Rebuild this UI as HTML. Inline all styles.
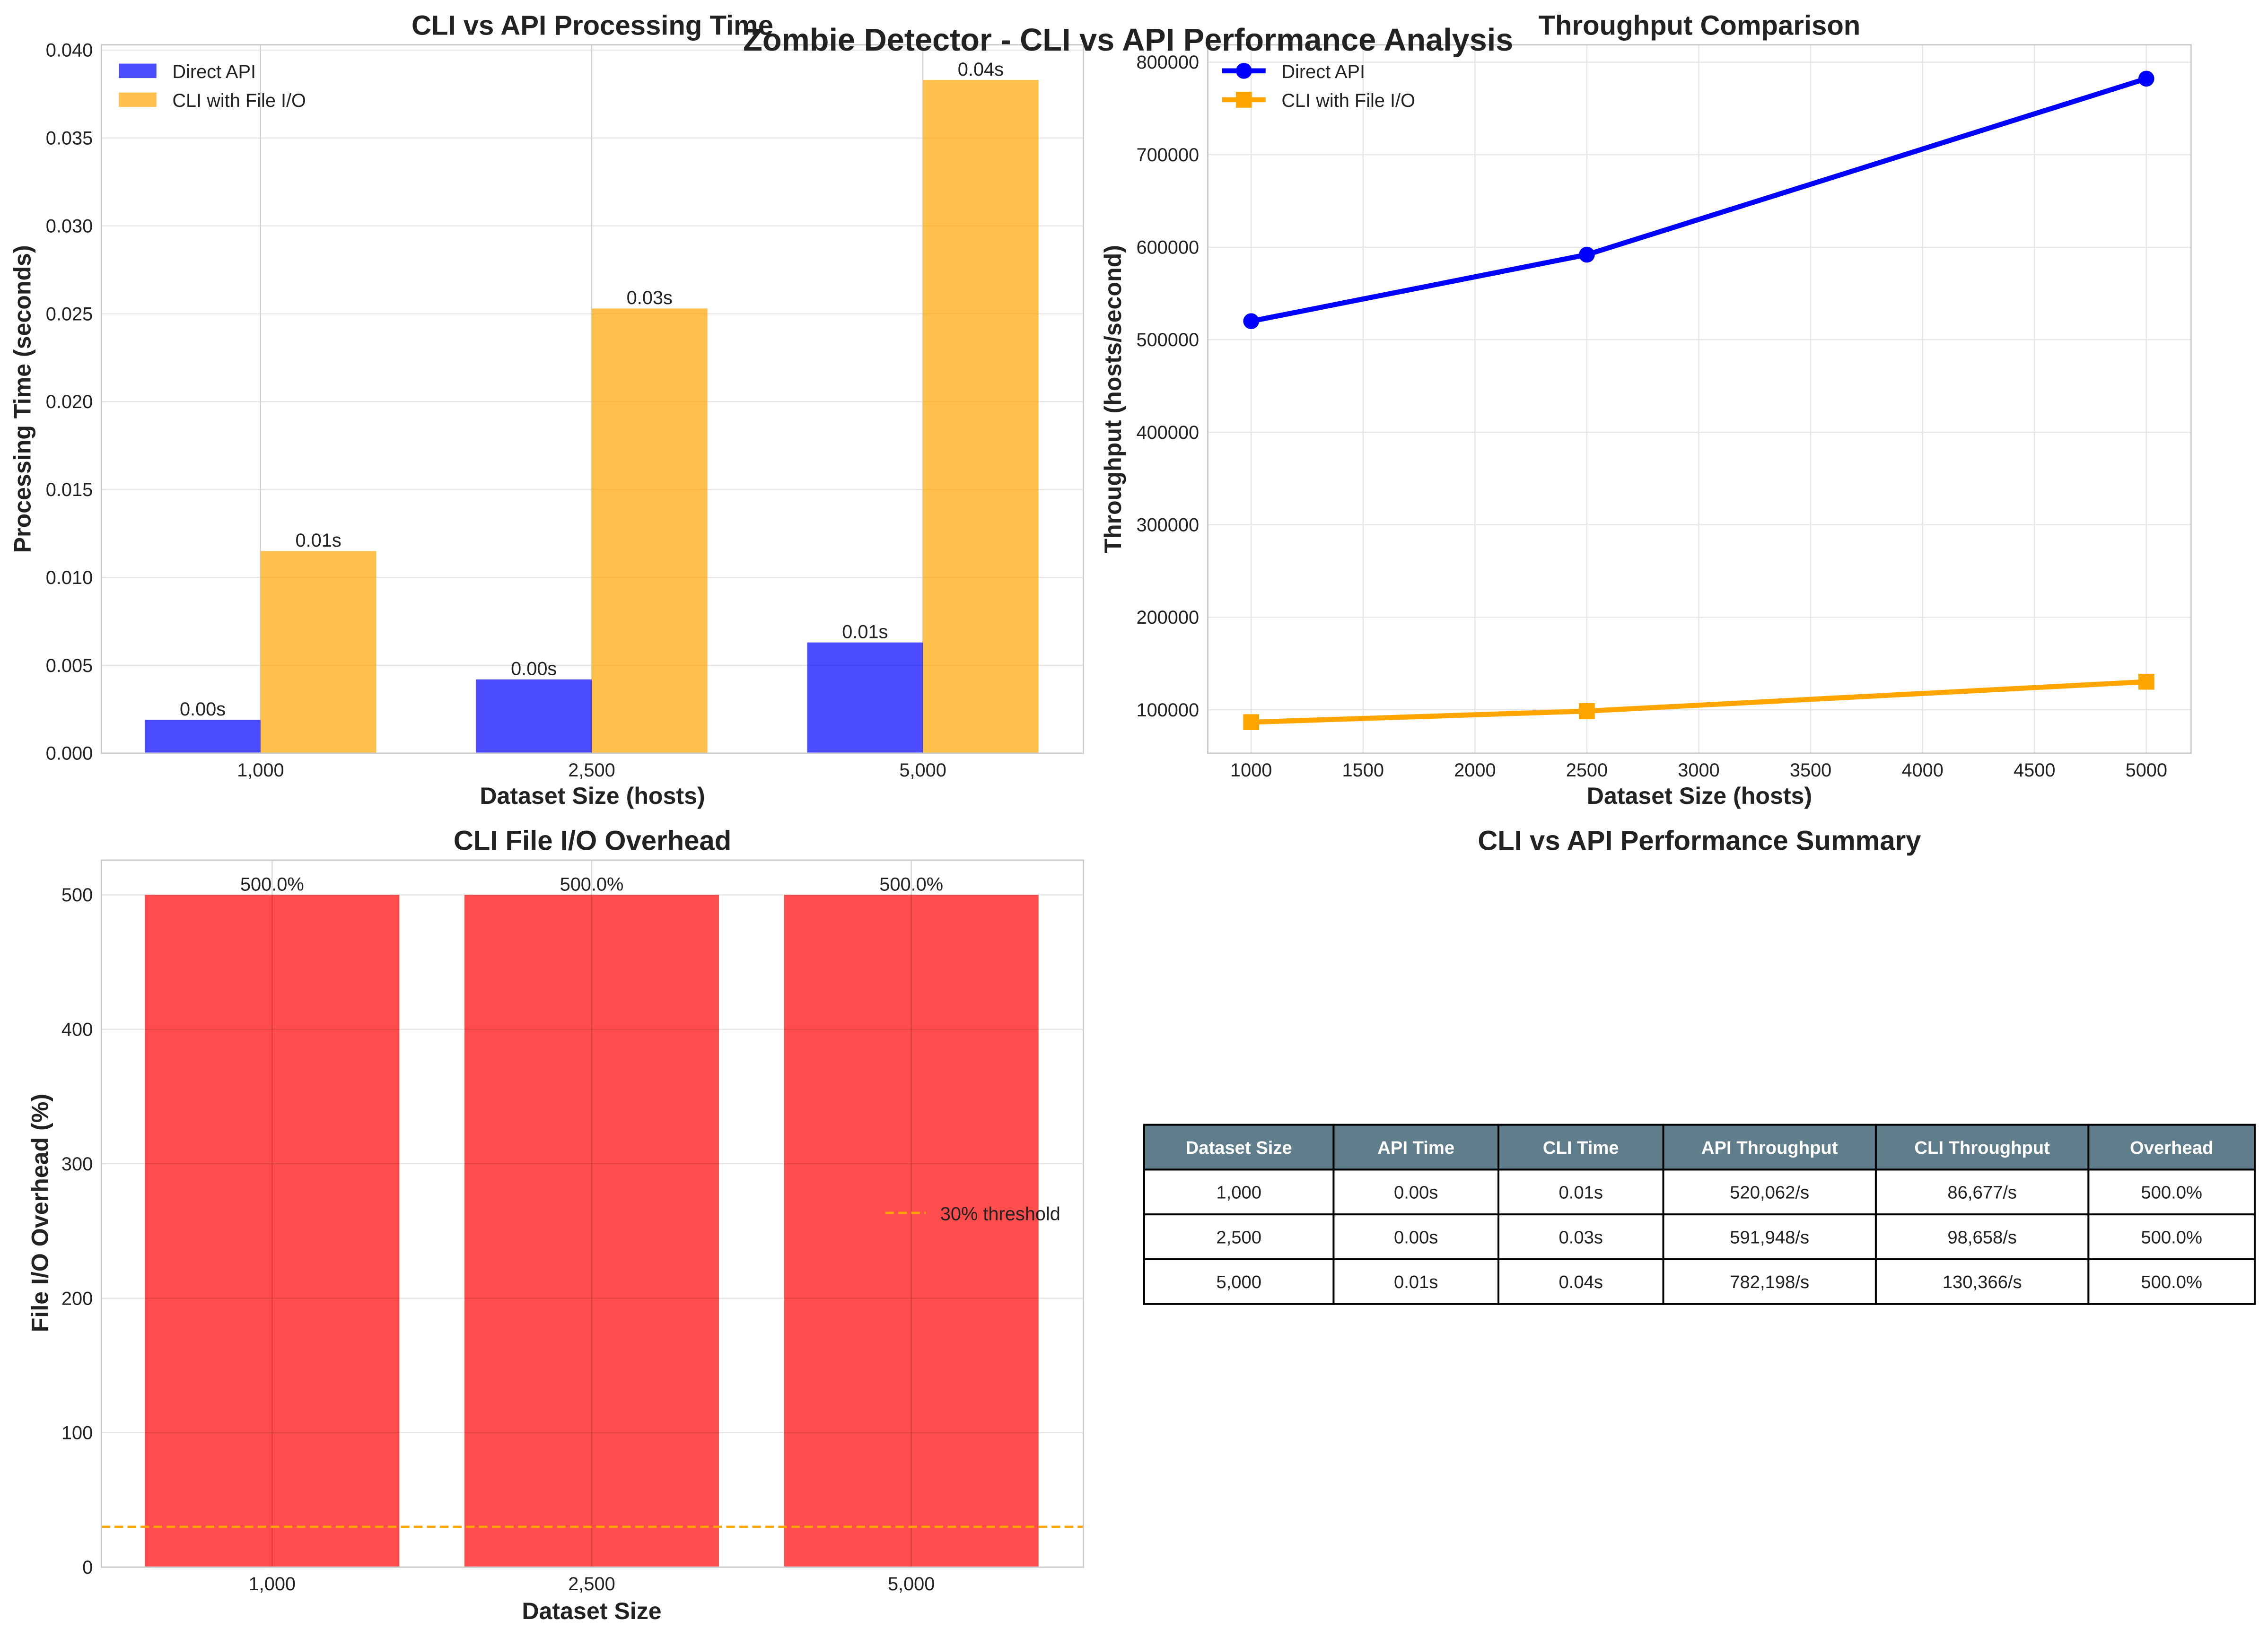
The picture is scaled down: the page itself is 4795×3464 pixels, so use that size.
<!DOCTYPE html>
<html><head><meta charset="utf-8"><style>
html,body{margin:0;padding:0;background:#fff;}
svg{display:block;font-family:"Liberation Sans",sans-serif;}
</style></head><body>
<svg id="fig" width="4795" height="3464" viewBox="0 0 1568 1133" xmlns="http://www.w3.org/2000/svg">
<rect width="1568" height="1133" fill="#fff"/>
<g id="p1"></g>
<g id="p2"></g>
<g id="p3"></g>
<g id="p4"></g>
<text x="780" y="35" text-anchor="middle" font-size="21.8" font-weight="bold" fill="#222">Zombie Detector - CLI vs API Performance Analysis</text>
</svg>
<script>
const categories = ["1,000","2,500","5,000"];
const apiTime = [0.0019,0.0042,0.0063];
const cliTime = [0.0115,0.0253,0.0383];
const apiTimeLabels = ["0.00s","0.00s","0.01s"];
const cliTimeLabels = ["0.01s","0.03s","0.04s"];
const timeTicks = [0,0.005,0.010,0.015,0.020,0.025,0.030,0.035,0.040];
const datasetSizes = [1000,2500,5000];
const apiThroughput = [520062,591948,782198];
const cliThroughput = [86677,98658,130366];
const thrXTicks = [1000,1500,2000,2500,3000,3500,4000,4500,5000];
const thrYTicks = [100000,200000,300000,400000,500000,600000,700000,800000];
const overhead = [500,500,500];
const overheadLabels = ["500.0%","500.0%","500.0%"];
const overheadTicks = [0,100,200,300,400,500];
const threshold = 30;
const tableHeader = ["Dataset Size","API Time","CLI Time","API Throughput","CLI Throughput","Overhead"];
const tableRows = [
 ["1,000","0.00s","0.01s","520,062/s","86,677/s","500.0%"],
 ["2,500","0.00s","0.03s","591,948/s","98,658/s","500.0%"],
 ["5,000","0.01s","0.04s","782,198/s","130,366/s","500.0%"]
];
const NS="http://www.w3.org/2000/svg";
function mk(parent,tag,attrs,text){const e=document.createElementNS(NS,tag);for(const k in attrs)e.setAttribute(k,attrs[k]);if(text!==undefined)e.textContent=text;parent.appendChild(e);return e;}

// ---------- Panel 1 ----------
(function(){
const g=document.getElementById('p1');
const L=70,R=749,T=31,B=521,ymax=0.0403;
const y=v=>B-(v/ymax)*(B-T);
const xc=i=>180+i*229;
for(const t of timeTicks){
 const l=mk(g,'line',{x1:L,x2:R,y1:y(t),y2:y(t),stroke:'#e6e6e6','stroke-width':0.8});
 
 const tx=mk(g,'text',{x:L-6,y:y(t)+4.5,'text-anchor':'end','font-size':13,fill:'#222'},t.toFixed(3));
 
}
categories.forEach((c,i)=>{
 const l=mk(g,'line',{x1:xc(i),x2:xc(i),y1:T,y2:B,stroke:'#cfcfcf','stroke-width':0.8});
 
});
categories.forEach((c,i)=>{
 const b1=mk(g,'rect',{x:xc(i)-80,y:y(apiTime[i]),width:80,height:B-y(apiTime[i]),fill:'#0000ff','fill-opacity':0.7});
 
 const b2=mk(g,'rect',{x:xc(i),y:y(cliTime[i]),width:80,height:B-y(cliTime[i]),fill:'#ffa500','fill-opacity':0.7});
 
 const t1=mk(g,'text',{x:xc(i)-40,y:y(apiTime[i])-3,'text-anchor':'middle','font-size':13,fill:'#222'},apiTimeLabels[i]);
 
 const t2=mk(g,'text',{x:xc(i)+40,y:y(cliTime[i])-3,'text-anchor':'middle','font-size':13,fill:'#222'},cliTimeLabels[i]);
 
 const xt=mk(g,'text',{x:xc(i),y:B+16,'text-anchor':'middle','font-size':13,fill:'#222'},c);
 
});
const fr=mk(g,'rect',{x:L,y:T,width:R-L,height:B-T,fill:'none',stroke:'#cccccc','stroke-width':1});

const ti=mk(g,'text',{x:(L+R)/2,y:24,'text-anchor':'middle','font-size':19,'font-weight':'bold',fill:'#222'},'CLI vs API Processing Time');

const xl=mk(g,'text',{x:(L+R)/2,y:556,'text-anchor':'middle','font-size':16.4,'font-weight':'bold',fill:'#222'},'Dataset Size (hosts)');

const yl=mk(g,'text',{x:0,y:0,transform:'translate(21,276) rotate(-90)','text-anchor':'middle','font-size':16.4,'font-weight':'bold',fill:'#222'},'Processing Time (seconds)');

const lg=mk(g,'g',{});
const p1=mk(lg,'rect',{x:82,y:44,width:26,height:10,fill:'#0000ff','fill-opacity':0.7});
const l1=mk(lg,'text',{x:119,y:54,'font-size':13,fill:'#222'},'Direct API');
const p2=mk(lg,'rect',{x:82,y:64,width:26,height:10,fill:'#ffa500','fill-opacity':0.7});
const l2=mk(lg,'text',{x:119,y:74,'font-size':13,fill:'#222'},'CLI with File I/O');
})();

// ---------- Panel 2 ----------
(function(){
const g=document.getElementById('p2');
const L=835,R=1515,T=31,B=521,xmin=806,xmax=5200,ymin=53100,ymax=818750;
const x=v=>L+(v-xmin)/(xmax-xmin)*(R-L);
const y=v=>B-(v-ymin)/(ymax-ymin)*(B-T);
for(const t of thrYTicks){
 const l=mk(g,'line',{x1:L,x2:R,y1:y(t),y2:y(t),stroke:'#e6e6e6','stroke-width':0.8});
 
 const tx=mk(g,'text',{x:L-6,y:y(t)+4.5,'text-anchor':'end','font-size':13,fill:'#222'},String(t));
 
}
for(const t of thrXTicks){
 const l=mk(g,'line',{x1:x(t),x2:x(t),y1:T,y2:B,stroke:'#e6e6e6','stroke-width':0.8});
 
 const tx=mk(g,'text',{x:x(t),y:B+16,'text-anchor':'middle','font-size':13,fill:'#222'},String(t));
 
}
const la=mk(g,'polyline',{points:datasetSizes.map((d,i)=>x(d)+','+y(apiThroughput[i])).join(' '),fill:'none',stroke:'#0000ff','stroke-width':3.5});

datasetSizes.forEach((d,i)=>{const c=mk(g,'circle',{cx:x(d),cy:y(apiThroughput[i]),r:5.5,fill:'#0000ff'});});
const lc=mk(g,'polyline',{points:datasetSizes.map((d,i)=>x(d)+','+y(cliThroughput[i])).join(' '),fill:'none',stroke:'#ffa500','stroke-width':3.5});

datasetSizes.forEach((d,i)=>{const c=mk(g,'rect',{x:x(d)-5.5,y:y(cliThroughput[i])-5.5,width:11,height:11,fill:'#ffa500'});});
const fr=mk(g,'rect',{x:L,y:T,width:R-L,height:B-T,fill:'none',stroke:'#cccccc','stroke-width':1});

const ti=mk(g,'text',{x:(L+R)/2,y:24,'text-anchor':'middle','font-size':19,'font-weight':'bold',fill:'#222'},'Throughput Comparison');

const xl=mk(g,'text',{x:(L+R)/2,y:556,'text-anchor':'middle','font-size':16.4,'font-weight':'bold',fill:'#222'},'Dataset Size (hosts)');

const yl=mk(g,'text',{x:0,y:0,transform:'translate(775,276) rotate(-90)','text-anchor':'middle','font-size':16.4,'font-weight':'bold',fill:'#222'},'Throughput (hosts/second)');

const lg=mk(g,'g',{});
mk(lg,'line',{x1:845,x2:875,y1:49,y2:49,stroke:'#0000ff','stroke-width':3.5});
mk(lg,'circle',{cx:860,cy:49,r:5.5,fill:'#0000ff'});
const l1=mk(lg,'text',{x:886,y:54,'font-size':13,fill:'#222'},'Direct API');
mk(lg,'line',{x1:845,x2:875,y1:69,y2:69,stroke:'#ffa500','stroke-width':3.5});
mk(lg,'rect',{x:854.5,y:63.5,width:11,height:11,fill:'#ffa500'});
const l2=mk(lg,'text',{x:886,y:74,'font-size':13,fill:'#222'},'CLI with File I/O');
})();

// ---------- Panel 3 ----------
(function(){
const g=document.getElementById('p3');
const L=70,R=749,T=595,B=1084,ymax=525.8;
const y=v=>B-(v/ymax)*(B-T);
const xc=i=>188+i*221;
for(const t of overheadTicks){
 const tx=mk(g,'text',{x:L-6,y:y(t)+4.5,'text-anchor':'end','font-size':13,fill:'#222'},String(t));
 
}
categories.forEach((c,i)=>{
 const b=mk(g,'rect',{x:xc(i)-88,y:y(overhead[i]),width:176,height:B-y(overhead[i]),fill:'#ff0000','fill-opacity':0.7});
 
 const t=mk(g,'text',{x:xc(i),y:y(overhead[i])-3,'text-anchor':'middle','font-size':13,fill:'#222'},overheadLabels[i]);
 
 const xt=mk(g,'text',{x:xc(i),y:B+16,'text-anchor':'middle','font-size':13,fill:'#222'},c);
 
});
for(const t of overheadTicks){
 const l=mk(g,'line',{x1:L,x2:R,y1:y(t),y2:y(t),stroke:'#000','stroke-opacity':0.1,'stroke-width':0.8});
 
}
categories.forEach((c,i)=>{
 const l=mk(g,'line',{x1:xc(i),x2:xc(i),y1:T,y2:B,stroke:'#000','stroke-opacity':0.15,'stroke-width':0.8});
 
});
const th=mk(g,'line',{x1:L,x2:R,y1:y(threshold),y2:y(threshold),stroke:'#ffa500','stroke-width':1.6,'stroke-dasharray':'6,3'});

const fr=mk(g,'rect',{x:L,y:T,width:R-L,height:B-T,fill:'none',stroke:'#cccccc','stroke-width':1});

const ti=mk(g,'text',{x:(L+R)/2,y:588,'text-anchor':'middle','font-size':19,'font-weight':'bold',fill:'#222'},'CLI File I/O Overhead');

const xl=mk(g,'text',{x:409,y:1120,'text-anchor':'middle','font-size':16.4,'font-weight':'bold',fill:'#222'},'Dataset Size');

const yl=mk(g,'text',{x:0,y:0,transform:'translate(33,839) rotate(-90)','text-anchor':'middle','font-size':16.4,'font-weight':'bold',fill:'#222'},'File I/O Overhead (%)');

const lg=mk(g,'g',{});
mk(lg,'line',{x1:612,x2:640,y1:839,y2:839,stroke:'#ffa500','stroke-width':1.6,'stroke-dasharray':'6,3'});
const l1=mk(lg,'text',{x:650,y:844,'font-size':13,fill:'#222'},'30% threshold');
})();

// ---------- Panel 4 ----------
(function(){
const g=document.getElementById('p4');
const cols=[791,922,1036,1150,1297,1444,1559];
const rowsY=[778,809,840,871,902];
const ti=mk(g,'text',{x:1175,y:588,'text-anchor':'middle','font-size':19,'font-weight':'bold',fill:'#222'},'CLI vs API Performance Summary');

const all=[tableHeader].concat(tableRows);
all.forEach((row,r)=>{
 row.forEach((cell,c)=>{
  const rc=mk(g,'rect',{x:cols[c],y:rowsY[r],width:cols[c+1]-cols[c],height:rowsY[r+1]-rowsY[r],fill:r===0?'#607d8b':'#fff',stroke:'#000','stroke-width':1.3});
  
  const t=mk(g,'text',{x:(cols[c]+cols[c+1])/2,y:rowsY[r]+20,'text-anchor':'middle','font-size':12.5,'font-weight':r===0?'bold':'normal',fill:r===0?'#fff':'#222'},cell);
  
 });
});
})();
</script>
</body></html>
